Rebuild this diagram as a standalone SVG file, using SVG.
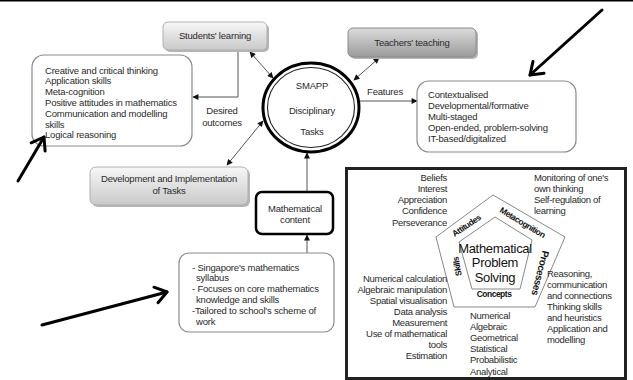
<svg xmlns="http://www.w3.org/2000/svg" width="633" height="380" viewBox="0 0 633 380">
<defs>
<linearGradient id="gLight" x1="0" y1="0" x2="0" y2="1">
<stop offset="0" stop-color="#f7f7f7"/><stop offset="1" stop-color="#c9c9c9"/>
</linearGradient>
<linearGradient id="gDark" x1="0" y1="0" x2="0" y2="1">
<stop offset="0" stop-color="#dcdcdc"/><stop offset="1" stop-color="#9a9a9a"/>
</linearGradient>
<marker id="ah" viewBox="0 0 10 10" refX="9" refY="5" markerWidth="7" markerHeight="6" markerUnits="userSpaceOnUse" orient="auto-start-reverse">
<path d="M0,0 L10,5 L0,10 z" fill="#111"/>
</marker>
</defs>
<style>
text{font-family:"Liberation Sans",Arial,sans-serif;fill:#2a2a2a;}
.t{font-size:9.5px;letter-spacing:-0.2px;}
.s{font-size:9.5px;letter-spacing:-0.3px;}
.c{text-anchor:middle;}
.r{text-anchor:end;}
.box{fill:#fff;stroke:#8a8a8a;stroke-width:1.2;}
.shadow{fill:#b5b5b5;}
.conn{fill:none;stroke:#555;stroke-width:1;}
.big{fill:none;stroke:#000;stroke-width:3;stroke-linecap:round;stroke-linejoin:round;}
.pl{font-size:8.5px;fill:#111;font-weight:bold;letter-spacing:-0.5px;}
</style>
<rect width="633" height="380" fill="#fff"/>
<line x1="0" y1="0.8" x2="633" y2="0.8" stroke="#000" stroke-width="1.6"/>

<g id="connectors">
<path class="conn" d="M238,50 V97 H193" marker-end="url(#ah)"/>
<line class="conn" x1="250" y1="52" x2="273" y2="78" marker-start="url(#ah)" marker-end="url(#ah)"/>
<line class="conn" x1="379" y1="58" x2="354" y2="80" marker-start="url(#ah)" marker-end="url(#ah)"/>
<line class="conn" x1="360" y1="101" x2="417" y2="101" marker-end="url(#ah)"/>
<line class="conn" x1="263" y1="121" x2="227" y2="165" marker-start="url(#ah)" marker-end="url(#ah)"/>
<line class="conn" x1="307" y1="192" x2="307" y2="153" marker-end="url(#ah)"/>
<line class="conn" x1="307" y1="253" x2="307" y2="235" marker-end="url(#ah)"/>
<text class="t c" x="222" y="113.5">Desired</text>
<text class="t c" x="222" y="125.5">outcomes</text>
<text class="t c" x="385" y="94.5">Features</text>
</g>

<g id="students-learning">
<rect class="shadow" x="165" y="24" width="104" height="28" rx="5"/>
<rect x="163" y="22" width="104" height="28" rx="5" fill="url(#gLight)" stroke="#b0b0b0" stroke-width="1"/>
<text class="t c" x="215" y="38.5">Students' learning</text>
</g>

<g id="teachers-teaching">
<rect class="shadow" x="350" y="30" width="128" height="29" rx="5" fill="#8a8a8a"/>
<rect x="348" y="28" width="128" height="29" rx="5" fill="url(#gDark)" stroke="#8a8a8a" stroke-width="1"/>
<text class="t c" x="412" y="45.5">Teachers' teaching</text>
</g>

<g id="outcomes">
<rect class="box" x="32" y="55" width="160" height="91" rx="12"/>
<text class="t" x="45" y="73.5">Creative and critical thinking</text>
<text class="t" x="45" y="84.3">Application skills</text>
<text class="t" x="45" y="95.1">Meta-cognition</text>
<text class="t" x="45" y="105.9">Positive attitudes in mathematics</text>
<text class="t" x="45" y="116.7">Communication and modelling</text>
<text class="t" x="45" y="127.5">skills</text>
<text class="t" x="45" y="138.3">Logical reasoning</text>
</g>

<g id="smapp">
<ellipse cx="311" cy="107.5" rx="48" ry="44.5" fill="#fff" stroke="#000" stroke-width="3"/>
<ellipse cx="311" cy="107.5" rx="43.5" ry="40" fill="none" stroke="#222" stroke-width="1.1"/>
<text class="t c" x="312" y="88.5">SMAPP</text>
<text class="t c" x="312" y="113.5">Disciplinary</text>
<text class="t c" x="312" y="134.5">Tasks</text>
</g>

<g id="features">
<rect class="box" x="417" y="81" width="159" height="71" rx="12"/>
<text class="t" x="428" y="97.5">Contextualised</text>
<text class="t" x="428" y="108.5">Developmental/formative</text>
<text class="t" x="428" y="119.5">Multi-staged</text>
<text class="t" x="428" y="130.5">Open-ended, problem-solving</text>
<text class="t" x="428" y="141.5">IT-based/digitalized</text>
</g>

<g id="development">
<rect class="shadow" x="92" y="169" width="158" height="38" rx="6"/>
<rect x="90" y="167" width="158" height="38" rx="6" fill="url(#gLight)" stroke="#b0b0b0" stroke-width="1"/>
<text class="t c" x="169" y="181.5">Development and Implementation</text>
<text class="t c" x="169" y="193.5">of Tasks</text>
</g>

<g id="math-content">
<rect x="256" y="192" width="77" height="42" rx="6" fill="#fff" stroke="#000" stroke-width="2.5"/>
<text class="t c" x="295" y="211.5">Mathematical</text>
<text class="t c" x="295" y="222.5">content</text>
</g>

<g id="syllabus">
<rect class="box" x="179" y="253" width="155" height="79" rx="10"/>
<text class="t" x="192" y="270.5">- Singapore's mathematics</text>
<text class="t" x="196" y="281.3">syllabus</text>
<text class="t" x="192" y="292.1">- Focuses on core mathematics</text>
<text class="t" x="196" y="302.9">knowledge and skills</text>
<text class="t" x="192" y="313.7">-Tailored to school's scheme of</text>
<text class="t" x="196" y="324.5">work</text>
</g>

<g id="framework">
<rect x="346.5" y="168.5" width="279" height="210" fill="#fff" stroke="#222" stroke-width="3"/>
<polygon points="493,195 565,237 535,307 454,307 436,237" fill="none" stroke="#888" stroke-width="1"/>
<polygon points="495,217 532,240 520,289 472,289 459,242" fill="none" stroke="#888" stroke-width="1"/>
<text class="c" x="495" y="252.5" style="font-size:13px;letter-spacing:-0.3px;fill:#111">Mathematical</text>
<text class="c" x="495" y="266.5" style="font-size:13px;letter-spacing:-0.3px;fill:#111">Problem</text>
<text class="c" x="495" y="281.5" style="font-size:13px;letter-spacing:-0.3px;fill:#111">Solving</text>
<text class="pl c" transform="translate(468,228) rotate(-34)">Attitudes</text>
<text class="pl c" transform="translate(521,225) rotate(31)">Metacognition</text>
<text class="pl c" transform="translate(537,272) rotate(104)" style="font-size:10px">Processes</text>
<text class="pl c" transform="translate(460,266) rotate(-100)">Skills</text>
<text class="pl c" x="494" y="296.5">Concepts</text>

<text class="s r" x="447" y="180.5">Beliefs</text>
<text class="s r" x="447" y="191.8">Interest</text>
<text class="s r" x="447" y="203.1">Appreciation</text>
<text class="s r" x="447" y="214.4">Confidence</text>
<text class="s r" x="447" y="225.7">Perseverance</text>

<text class="s" x="534" y="180.5">Monitoring of one's</text>
<text class="s" x="534" y="191.8">own thinking</text>
<text class="s" x="534" y="203.1">Self-regulation of</text>
<text class="s" x="534" y="214.4">learning</text>

<text class="s r" x="447" y="281.5">Numerical calculation</text>
<text class="s r" x="447" y="292.5">Algebraic manipulation</text>
<text class="s r" x="447" y="303.5">Spatial visualisation</text>
<text class="s r" x="447" y="314.5">Data analysis</text>
<text class="s r" x="447" y="325.5">Measurement</text>
<text class="s r" x="447" y="336.5">Use of mathematical</text>
<text class="s r" x="447" y="347.5">tools</text>
<text class="s r" x="447" y="358.5">Estimation</text>

<text class="s" x="547" y="276.5">Reasoning,</text>
<text class="s" x="547" y="287.5">communication</text>
<text class="s" x="547" y="298.5">and connections</text>
<text class="s" x="547" y="309.5">Thinking skills</text>
<text class="s" x="547" y="320.5">and heuristics</text>
<text class="s" x="547" y="331.5">Application and</text>
<text class="s" x="547" y="342.5">modelling</text>

<text class="s" x="470" y="318.5">Numerical</text>
<text class="s" x="470" y="329.7">Algebraic</text>
<text class="s" x="470" y="340.9">Geometrical</text>
<text class="s" x="470" y="352.1">Statistical</text>
<text class="s" x="470" y="363.3">Probabilistic</text>
<text class="s" x="470" y="374.5">Analytical</text>
</g>

<g id="pointer-arrows">
<line class="big" x1="602" y1="10" x2="530" y2="75"/>
<polyline class="big" points="544,73.3 530,75 533,61.4"/>
<line class="big" x1="18" y1="181" x2="44" y2="137"/>
<polyline class="big" points="31.2,142.8 44,137 45.1,151"/>
<line class="big" x1="42" y1="325" x2="167" y2="292"/>
<polyline class="big" points="154,287.2 167,292 158,302.7"/>
</g>
</svg>
